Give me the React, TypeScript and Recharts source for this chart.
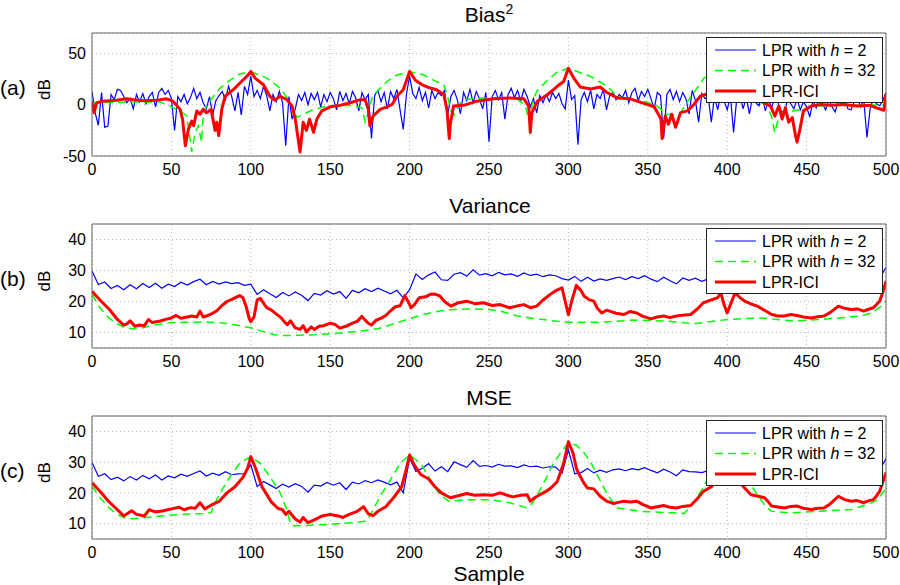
import { LineChart, Line, XAxis, YAxis, CartesianGrid } from "recharts";

// sample axis + tick sets
const SAMPLE_TICKS = [0, 50, 100, 150, 200, 250, 300, 350, 400, 450, 500];
const BIAS_TICKS = [-50, 0, 50];
const DB_TICKS = [10, 20, 30, 40];

// h = 2 estimates are read every BLUE_STEP samples
const BIAS_BLUE_STEP = 2;
const biasBlue = [
  13, -8, -20, 12, -22, -21, 10, 5, 15, 14, 8, 2, 6, -4, 10, 3, 11, 1, 8, 12,
  -2, 12, 16, 10, 14, 6, -25, 8, 3, 10, 1, 7, 16, 6, 12, 2, -4, 8, -10, 4,
  9, 13, 5, 18, 8, -6, 12, -10, 18, 10, 28, 8, 14, 6, 18, 9, -6, 10, 3, 13,
  2, -40, 8, -14, -4, 10, 4, 12, 0, 11, 5, 12, -2, 10, 3, 12, 6, -5, 13, 4,
  11, 1, 13, 7, -6, 12, 5, 10, -33, 9, 14, 3, 12, -4, 13, 6, 15, -5, -24, 10,
  28, 11, 6, 17, 4, 12, -3, 14, 6, 12, 9, 14, -10, 8, 14, 5, -9, 12, 4, 15,
  2, 13, 6, -4, 12, -36, 8, 14, 5, 12, -14, 10, 16, 7, 14, 4, 15, 8, -2, 6,
  -8, 9, 2, 10, 3, 12, 6, 11, 1, -4, 24, 5, 9, -39, 5, 12, 3, 14, -4, 10,
  6, 15, -5, 9, 12, 5, 10, 7, 14, 2, 12, 16, 4, 13, 8, 15, 6, -4, 12, 9,
  -33, 10, 15, 5, 13, 3, 12, 6, -9, 14, 4, -17, 11, 6, 9, -17, 8, -5, 10, 4,
  -5, 9, -27, 6, 10, -4, 7, -9, 8, 2, -1, 9, -6, 5, -3, 8, 2, -6, -8, 5,
  1, -4, 6, -5, 3, -2, -12, 4, -3, 7, 1, -5, 5, -2, -7, 4, 0, 6, -4, -5,
  3, 7, -2, 5, -32, -4, 6, 1, -1, 4, 12,
];

const biasGreen: [number, number][] = [
  [0, 2], [26, 2.6], [43, 2.6], [49, -1.3], [55.5, -6], [59.7, -11], [61.8, -33], [62.8, -46],
  [65, -27], [67, -20.5], [69, -36.5], [70, -11], [72, -1.3], [76.5, 8.3], [80.7, 16.3], [87, 24],
  [93, 30], [100, 32.4], [110, 26], [118.5, 16.3], [123.7, 5], [127, -4.5], [129, -12.5], [133, -9.3],
  [139.5, -4.5], [148, -1.3], [162.6, -0.6], [170, -3], [172, -17], [174, -7.7], [176, 5], [179.4, 13],
  [185.7, 22.7], [192, 29], [200, 32.4], [209, 29], [215, 24], [221.5, 19.5], [224, 8], [226, -6],
  [228, -10], [231, 0], [234, 5], [246, 6.7], [267, 6.7], [273, -1.3], [275, -15.7], [278, 5],
  [280, 13], [286, 22.7], [293, 32], [300, 35.6], [314, 27.6], [324.4, 18], [330.7, 8.3], [339, 5],
  [347.5, 3.5], [356, -1.3], [362, -9.3], [366, -10], [370.6, -8], [375, 3], [380, 14], [385.3, 26],
  [392, 31], [400, 33], [408, 30], [414, 24], [419, 14], [423, 5], [426, -4], [428, -12],
  [430, -27], [432, -15], [435.5, -8], [446, -4.5], [456, -1.3], [478, -0.6], [500, 0],
];

const biasRed: [number, number][] = [
  [0, 2.6], [1.3, -7.7], [3, 2], [7, 3.5], [15.5, 4.5], [22, 5.8], [26, 5], [32, 4], [41, 4.5],
  [47, 5.8], [51, 3.5], [55.5, -4.5], [57, -14], [58.8, -40], [60.7, -24], [62.8, -16], [64, -20.5],
  [66, -6], [68, -9.3], [70, -4.5], [72, -7.7], [75, -4.5], [77.5, -25], [78.6, -17], [79.8, -30],
  [81.7, -4.5], [83.8, 8.3], [89, 14.7], [93, 21], [97.5, 27.6], [100, 32.4], [102.7, 26], [108, 19.5],
  [112, 8.3], [115, 4.5], [118.5, 8.3], [122.7, 5], [126, -1.3], [128, -14], [131, -46], [133, -17],
  [135, -25], [137, -14], [139.5, -27], [141.6, -14], [144.7, -6], [150, -2], [156, -0.6], [162.6, 2],
  [169, 5], [172, 5], [174, -4.5], [175, -20.5], [177, -11], [181.5, -4.5], [185.7, -2], [189, 0.3],
  [192, 8.3], [196, 14.7], [200, 32.4], [203.6, 24], [208, 19.5], [213, 16.3], [217, 14.7], [221.5, 10],
  [223.5, -4.5], [225, -33], [225.6, -19], [227.7, -1.3], [234, -0.6], [242.4, 3.5], [253, 5.8], [263.4, 6.7],
  [272, 5.8], [275, -1.3], [276, -27], [277, -7.7], [280.5, 3.5], [287, 10], [293, 18], [297, 22.7],
  [300, 35.6], [303.4, 26], [307.5, 17.3], [314, 15.4], [320, 17.3], [324, 12.2], [330.7, 6.7], [339, 5.8],
  [347.5, 1.3], [354, -2], [358.3, -14], [359, -33], [361, -11], [363, -19], [365, -9.3], [367.5, -22],
  [370.6, -7.7], [375, -6], [379, 0.3], [383, 8.3], [386.3, 10], [392, 14], [398, 22], [402, 24],
  [408, 15], [415, 8], [421, 3.5], [423, 2], [427.3, -1.3], [430, -11], [432.5, -1.3], [434.6, -14],
  [436.6, -3], [438.7, -17], [441, -12.5], [443, -30], [444, -36.5], [445.8, -24], [448, -6], [453, -1.3],
  [459, 0.3], [465, -0.6], [473.5, 0.3], [482, -1.3], [490, -0.6], [494, -3], [498.7, -5.4], [500, 10.6],
];

const BC_BLUE_STEP = 4;
const varBlue = [
  29.8, 25.5, 26.3, 24.2, 25.2, 23.8, 25.4, 24.1, 25.8, 24.5, 25.9, 24.3, 25.6, 24.8, 26.2, 25.3,
  26.4, 27.2, 25.4, 26.5, 25.6, 26.3, 25.8, 26.1, 25.2, 25.6, 22.3, 23.8, 22.5, 21.3, 22.9, 21.8,
  23.1, 22.0, 20.3, 22.6, 22.1, 23.5, 22.4, 23.2, 21.0, 23.6, 22.8, 24.1, 23.2, 24.3, 23.4, 22.5,
  23.6, 21.2, 23.8, 28.9, 27.1, 28.6, 29.5, 27.0, 26.8, 28.8, 29.3, 28.2, 30.2, 28.5, 29.0, 28.3,
  29.4, 28.6, 28.9, 28.1, 29.2, 28.4, 28.8, 28.0, 28.6, 28.3, 27.4, 26.9, 28.1, 26.5, 27.8, 26.6,
  27.3, 26.8, 27.4, 27.9, 27.1, 28.0, 27.4, 28.3, 27.2, 26.4, 27.8, 26.7, 25.7, 27.6, 26.8, 27.5,
  26.5, 27.3, 26.8, 27.6, 26.9, 27.4, 26.6, 27.8, 27.1, 26.5, 27.6, 27.0, 26.4, 27.7, 26.9, 27.3,
  26.6, 27.5, 26.8, 27.2, 26.4, 27.6, 26.9, 27.3, 26.7, 27.5, 26.8, 27.1, 27.5, 31.0,
];

const varGreen: [number, number][] = [
  [0, 22.3], [5, 18], [10, 15], [15, 13], [20, 11.8], [25, 11.2], [30, 11.3], [40, 12.5], [50, 13.2],
  [60, 13.3], [70, 13.4], [80, 13.2], [90, 12.5], [100, 11.5], [110, 10], [115, 9.3], [120, 9], [130, 9.1],
  [140, 9.3], [150, 9.6], [160, 10], [170, 10.5], [180, 11.2], [190, 12.8], [200, 14.5], [210, 16], [220, 17],
  [230, 17.5], [240, 17.6], [250, 17.4], [258, 16.8], [268, 15.3], [280, 14.4], [290, 13.8], [300, 13.3],
  [320, 13.3], [341, 14], [362, 13.7], [379, 12.8], [400, 14.2], [421, 14.7], [442, 13.7], [464, 14.4],
  [484, 15.3], [490, 16.2], [494, 17.4], [497, 18.5], [500, 20.1],
];

const varRed: [number, number][] = [
  [0, 23.3], [5, 20.5], [11, 17.4], [16, 14.2], [20, 12.4], [22, 12.8], [24, 13.8], [27, 12], [30, 12.4],
  [33, 12.2], [35.5, 14.2], [38, 13.2], [43, 13.7], [47, 14.3], [50, 14.7], [53, 15.5], [56, 14.6], [60, 15],
  [63, 15.3], [66, 15], [68, 16.9], [70, 15], [73, 15.5], [76, 16.2], [78.6, 17], [82, 18.8], [85, 20],
  [88, 20.7], [90, 21.2], [93, 21.9], [95, 21.3], [97, 18.5], [99, 14.5], [100, 13.5], [102, 15], [104, 20.5],
  [106, 21], [108, 19.5], [110, 18], [113, 17.2], [116, 16], [119, 14.8], [121, 13.5], [123, 12.5], [125, 13.8],
  [128, 11.5], [131, 11], [133, 12.2], [135, 10.2], [138, 11.8], [140, 11], [143, 12], [146, 12.2], [150, 13],
  [153, 12.6], [156, 11.4], [160, 12], [164, 13], [167, 13.6], [170, 15.2], [172, 14], [174, 13], [176, 12.4],
  [179, 14], [182, 14.6], [185, 15.5], [188, 17], [191, 18.3], [194, 18.6], [197, 21.9], [199, 20], [201, 18],
  [203, 19], [206, 21.2], [210, 21.5], [213, 22.3], [216, 22.4], [219, 21.8], [222, 20], [226, 18.5], [230, 19.5],
  [236, 20.1], [241, 19.3], [246.6, 19.6], [252, 18.7], [257, 19], [263, 18], [268, 18.6], [272, 19], [276, 18],
  [280, 18.5], [284, 20.5], [288.6, 22.3], [292, 23.5], [296, 24.4], [298, 20], [300, 15.8], [302, 20], [305, 25.2],
  [308, 23.5], [310, 21.7], [313, 20.6], [316, 20.1], [318, 18], [321, 16.3], [324, 17.2], [326, 16.9], [330, 16.2],
  [335, 15.8], [339, 16.8], [343, 16.3], [347, 15.2], [352, 14.4], [356, 15], [360, 15.3], [364, 14.8], [368, 15.3],
  [372, 15.6], [377, 15.8], [381, 17.5], [385, 19.6], [390, 20.5], [394, 21.2], [396, 22.8], [398, 19], [400, 16.3],
  [402, 19], [405, 22.8], [408, 21.3], [411, 20.1], [415, 19.2], [419, 18.5], [424, 17], [428, 15.8], [432, 15.3],
  [436, 15.3], [440, 15.8], [444, 15.5], [448, 15], [453, 14.7], [457, 15.1], [461, 15.3], [465, 16.5], [470, 18.5],
  [474, 17.8], [478, 17.4], [482, 17.6], [486, 16.9], [489, 17.5], [492, 18], [494, 19], [496, 20.1], [498, 23],
  [500, 26.6],
];

const mseBlue = [
  29.9, 25.4, 26.2, 24.3, 25.1, 23.9, 25.3, 24.2, 25.7, 24.6, 25.8, 24.2, 25.5, 24.9, 26.1, 25.4,
  26.3, 27.1, 25.5, 26.4, 25.7, 26.9, 25.9, 26.2, 26.3, 29.1, 22.1, 23.7, 22.6, 21.4, 22.8, 21.9,
  23.0, 22.1, 20.2, 22.5, 22.2, 23.4, 22.5, 23.3, 21.1, 23.5, 22.9, 24.0, 23.3, 24.2, 23.5, 22.6,
  23.5, 20.0, 31.2, 27.0, 28.0, 29.5, 27.1, 28.5, 26.9, 30.1, 29.2, 28.3, 30.5, 28.6, 28.9, 28.4,
  29.3, 28.7, 28.8, 28.2, 29.1, 28.5, 28.7, 28.1, 28.5, 28.4, 26.4, 33.9, 26.2, 26.6, 27.9, 26.5,
  27.4, 26.7, 27.5, 27.8, 27.2, 27.9, 27.5, 28.2, 27.3, 26.5, 27.7, 26.8, 25.6, 27.5, 26.9, 26.8,
  26.6, 27.2, 26.9, 27.5, 27.0, 27.3, 26.7, 27.7, 27.2, 26.6, 27.5, 27.1, 26.5, 27.6, 27.0, 27.2,
  26.7, 27.4, 26.9, 27.1, 26.5, 27.5, 27.0, 27.2, 26.8, 27.4, 26.9, 27.0, 27.4, 31.2,
];

const mseGreen: [number, number][] = [
  [0, 22.1], [5, 18.5], [10, 15.5], [15, 13.3], [20, 12], [25, 11.6], [30, 11.8], [40, 12.3], [50, 12.8],
  [60, 13.1], [70, 13.3], [75, 13.6], [76.5, 15.7], [80.7, 20], [87, 25.3], [93, 29.6], [100, 31.8],
  [106, 29.6], [112, 25.3], [118.5, 20], [122.7, 14.6], [125, 9.8], [127, 9.3], [135, 9.4], [150, 9.8],
  [165, 10.3], [173, 10.9], [176, 13.5], [181.5, 18.9], [188, 24.3], [194, 29.6], [200, 32.3], [207, 29.6],
  [213, 24.3], [219, 19.4], [224.6, 17.3], [236, 17.8], [251, 17.8], [263, 16.8], [274, 15.1], [277, 16.5],
  [280, 18.9], [286.5, 25.3], [290, 29], [295, 33], [300, 36.3], [305, 35.5], [310, 33], [315, 29],
  [320, 24], [325, 19], [331, 15.1], [345.6, 14], [364.5, 13.5], [373, 13.3], [377, 15.7], [381.5, 18.9],
  [385.3, 22.1], [390, 27], [395, 30.5], [400, 32], [405, 30.5], [410, 27], [415, 22.5], [419.7, 18.9],
  [424, 15.7], [428, 14], [440, 13.5], [457, 14], [478, 14.6], [488.5, 16.2], [495, 17.8], [500, 21.6],
];

const mseRed: [number, number][] = [
  [0, 23.3], [5, 20.5], [10, 17.5], [15, 15], [20, 12.5], [23, 13.5], [25, 14.2], [28, 13], [30, 12.8],
  [33, 12.5], [36, 14.5], [40, 13.8], [45, 14.2], [50, 14.8], [55, 15.3], [58, 14.5], [62, 15.2], [65, 15],
  [68, 16.8], [71, 14.8], [75, 16], [80, 17.2], [85, 20], [90, 22], [95, 25], [98, 28], [100, 31.8],
  [103, 28], [107, 22], [110, 19.5], [113, 17], [117, 15], [120, 14.5], [122, 13], [124, 14], [128, 11.5],
  [131, 10.5], [133, 12], [136, 10.3], [140, 11.2], [145, 12.5], [150, 13], [155, 12.5], [158, 12], [162, 13],
  [167, 14], [171, 15.5], [174, 13.2], [177, 12.6], [180, 14], [185, 15.5], [190, 18.5], [195, 22], [198, 28],
  [200, 32.3], [203, 29], [207, 26], [212, 24.5], [216, 22], [220, 20], [225.6, 18.4], [230, 19], [236, 19.8],
  [241, 19.2], [247, 19.4], [252, 19.2], [257, 20], [261, 19.3], [265, 18.7], [270, 19.2], [274, 19.4], [276, 17.3],
  [279, 18.5], [282, 19.4], [286, 20.5], [289, 21.6], [293, 23.7], [297, 29.6], [300, 36.6], [303, 32.8], [305, 28],
  [307.5, 25.3], [310, 23], [312, 21.6], [316, 21.3], [320, 18.9], [324, 17.3], [328.5, 16.5], [332, 17], [335, 17.3],
  [339, 17], [343, 17.3], [347, 16.2], [352, 15.1], [356, 15.5], [360, 15.9], [364, 15.3], [368, 15.1], [372, 15.6],
  [377, 15.9], [381, 18], [385, 20.5], [390, 22], [395, 25], [398, 29], [400, 31.5], [403, 28], [407, 24],
  [411, 21.6], [415, 19.4], [419, 19], [423.5, 18.4], [426, 17], [428, 15.7], [432, 15.4], [436, 15.1], [440, 15.6],
  [444, 15.7], [448, 15], [453, 14.6], [457, 15], [461, 15.1], [465, 16.5], [470, 18.9], [474, 17.8], [478, 17.3],
  [482, 17.5], [486, 16.8], [489, 17.4], [492, 17.8], [494, 19], [496, 20.5], [498, 23.5], [500, 26.6],
];

const SERIES = [
  { key: "blue", label: "2", color: "#0000ff", width: 1.2, dash: undefined as string | undefined },
  { key: "green", label: "32", color: "#00ff00", width: 1.5, dash: "8 5" },
  { key: "red", label: "", color: "#ff0000", width: 3, dash: undefined as string | undefined },
];

const FONT = "'Liberation Sans', Arial, Helvetica, sans-serif";
const FRAME = "#666";
const TICK_LEN = 7;
const noLabel = () => "";

const fromSteps = (vals: number[], step: number) => vals.map((v, i) => ({ s: i * step, v }));
const fromPairs = (pairs: [number, number][]) => pairs.map(([s, v]) => ({ s, v }));

type PanelProps = {
  plotTop: number;
  plotHeight: number;
  yDomain: [number, number];
  yTicks: number[];
  blue: { s: number; v: number }[];
  green: { s: number; v: number }[];
  red: { s: number; v: number }[];
};

function Panel({ plotTop, plotHeight, yDomain, yTicks, blue, green, red }: PanelProps) {
  return (
    <div style={{ position: "absolute", left: 0, top: plotTop - 10 }}>
      <LineChart width={900} height={plotHeight + 40} margin={{ top: 10, right: 14, bottom: 0, left: 0 }}>
        <CartesianGrid stroke="#b8b8b8" strokeDasharray="1 3" />
        <XAxis dataKey="s" type="number" domain={[0, 500]} ticks={SAMPLE_TICKS} interval={0} allowDataOverflow
          height={30} stroke={FRAME} tickLine={false} tickSize={0} tickMargin={8}
          tick={{ fill: "#000", fontSize: 16 }} />
        {/* inward tick marks on all four sides, like the original */}
        <XAxis xAxisId="bm" dataKey="s" type="number" domain={[0, 500]} ticks={SAMPLE_TICKS} interval={0}
          mirror axisLine={false} stroke={FRAME} tickSize={TICK_LEN} tickFormatter={noLabel} />
        <XAxis xAxisId="tm" orientation="top" dataKey="s" type="number" domain={[0, 500]} ticks={SAMPLE_TICKS}
          interval={0} mirror stroke={FRAME} tickSize={TICK_LEN} tickFormatter={noLabel} />
        <YAxis type="number" domain={yDomain} ticks={yTicks} interval={0} allowDataOverflow width={92}
          stroke={FRAME} tickLine={false} tickSize={0} tickMargin={6} tick={{ fill: "#000", fontSize: 16 }} />
        <YAxis yAxisId="lm" type="number" domain={yDomain} ticks={yTicks} interval={0} mirror
          axisLine={false} stroke={FRAME} tickSize={TICK_LEN} tickFormatter={noLabel} />
        <YAxis yAxisId="rm" orientation="right" type="number" domain={yDomain} ticks={yTicks} interval={0}
          mirror stroke={FRAME} tickSize={TICK_LEN} tickFormatter={noLabel} />
        <Line data={blue} dataKey="v" stroke={SERIES[0].color} strokeWidth={SERIES[0].width} dot={false}
          type="linear" isAnimationActive={false} />
        <Line data={green} dataKey="v" stroke={SERIES[1].color} strokeWidth={SERIES[1].width}
          strokeDasharray={SERIES[1].dash} dot={false} type="linear" isAnimationActive={false} />
        <Line data={red} dataKey="v" stroke={SERIES[2].color} strokeWidth={SERIES[2].width} dot={false}
          type="linear" strokeLinejoin="round" isAnimationActive={false} />
      </LineChart>
    </div>
  );
}

function LegendBox({ top }: { top: number }) {
  return (
    <svg style={{ position: "absolute", left: 706, top }} width={177} height={66}>
      <rect x={0.5} y={0.5} width={176} height={65} fill="#fff" stroke="#222" />
      {SERIES.map((sr, i) => {
        const cy = 13 + i * 20.5;
        return (
          <g key={sr.key}>
            <line x1={9} x2={50} y1={cy} y2={cy} stroke={sr.color} strokeWidth={sr.width} strokeDasharray={sr.dash} />
            <text x={56} y={cy + 5.5} fontSize={16} fill="#000">
              {sr.key === "red" ? "LPR-ICI" : (
                <>LPR with <tspan fontStyle="italic">h</tspan> = {sr.label}</>
              )}
            </text>
          </g>
        );
      })}
    </svg>
  );
}

const PANELS = [
  { tag: "(a)", title: "Bias", plotTop: 33, plotHeight: 123, titleX: 489 },
  { tag: "(b)", title: "Variance", plotTop: 224, plotHeight: 124, titleX: 490 },
  { tag: "(c)", title: "MSE", plotTop: 416, plotHeight: 123, titleX: 489 },
];

export default function App() {
  return (
    <div style={{ position: "fixed", left: 0, top: 0, width: 900, height: 585, background: "#fff", fontFamily: FONT, overflow: "hidden" }}>
      <Panel plotTop={33} plotHeight={123} yDomain={[-50, 70]} yTicks={BIAS_TICKS}
        blue={fromSteps(biasBlue, BIAS_BLUE_STEP)} green={fromPairs(biasGreen)} red={fromPairs(biasRed)} />
      <Panel plotTop={224} plotHeight={124} yDomain={[5, 45]} yTicks={DB_TICKS}
        blue={fromSteps(varBlue, BC_BLUE_STEP)} green={fromPairs(varGreen)} red={fromPairs(varRed)} />
      <Panel plotTop={416} plotHeight={123} yDomain={[5, 45]} yTicks={DB_TICKS}
        blue={fromSteps(mseBlue, BC_BLUE_STEP)} green={fromPairs(mseGreen)} red={fromPairs(mseRed)} />

      {PANELS.map((p) => <LegendBox key={p.tag} top={p.plotTop + 4} />)}

      <svg style={{ position: "absolute", left: 0, top: 0, pointerEvents: "none" }} width={900} height={585}>
        {PANELS.map((p) => {
          const mid = p.plotTop + p.plotHeight / 2;
          return (
            <g key={p.tag} fill="#000">
              <text x={p.titleX} y={p.plotTop - 11} fontSize={21} textAnchor="middle">
                {p.title}
                {p.tag === "(a)" && <tspan fontSize={14} dy={-8}>2</tspan>}
              </text>
              <text x={0} y={mid} fontSize={21}>{p.tag}</text>
              <text transform={`translate(50, ${mid - 5}) rotate(-90)`} fontSize={17} textAnchor="middle">dB</text>
            </g>
          );
        })}
        <text x={489} y={581} fontSize={21} textAnchor="middle" fill="#000">Sample</text>
      </svg>
    </div>
  );
}
